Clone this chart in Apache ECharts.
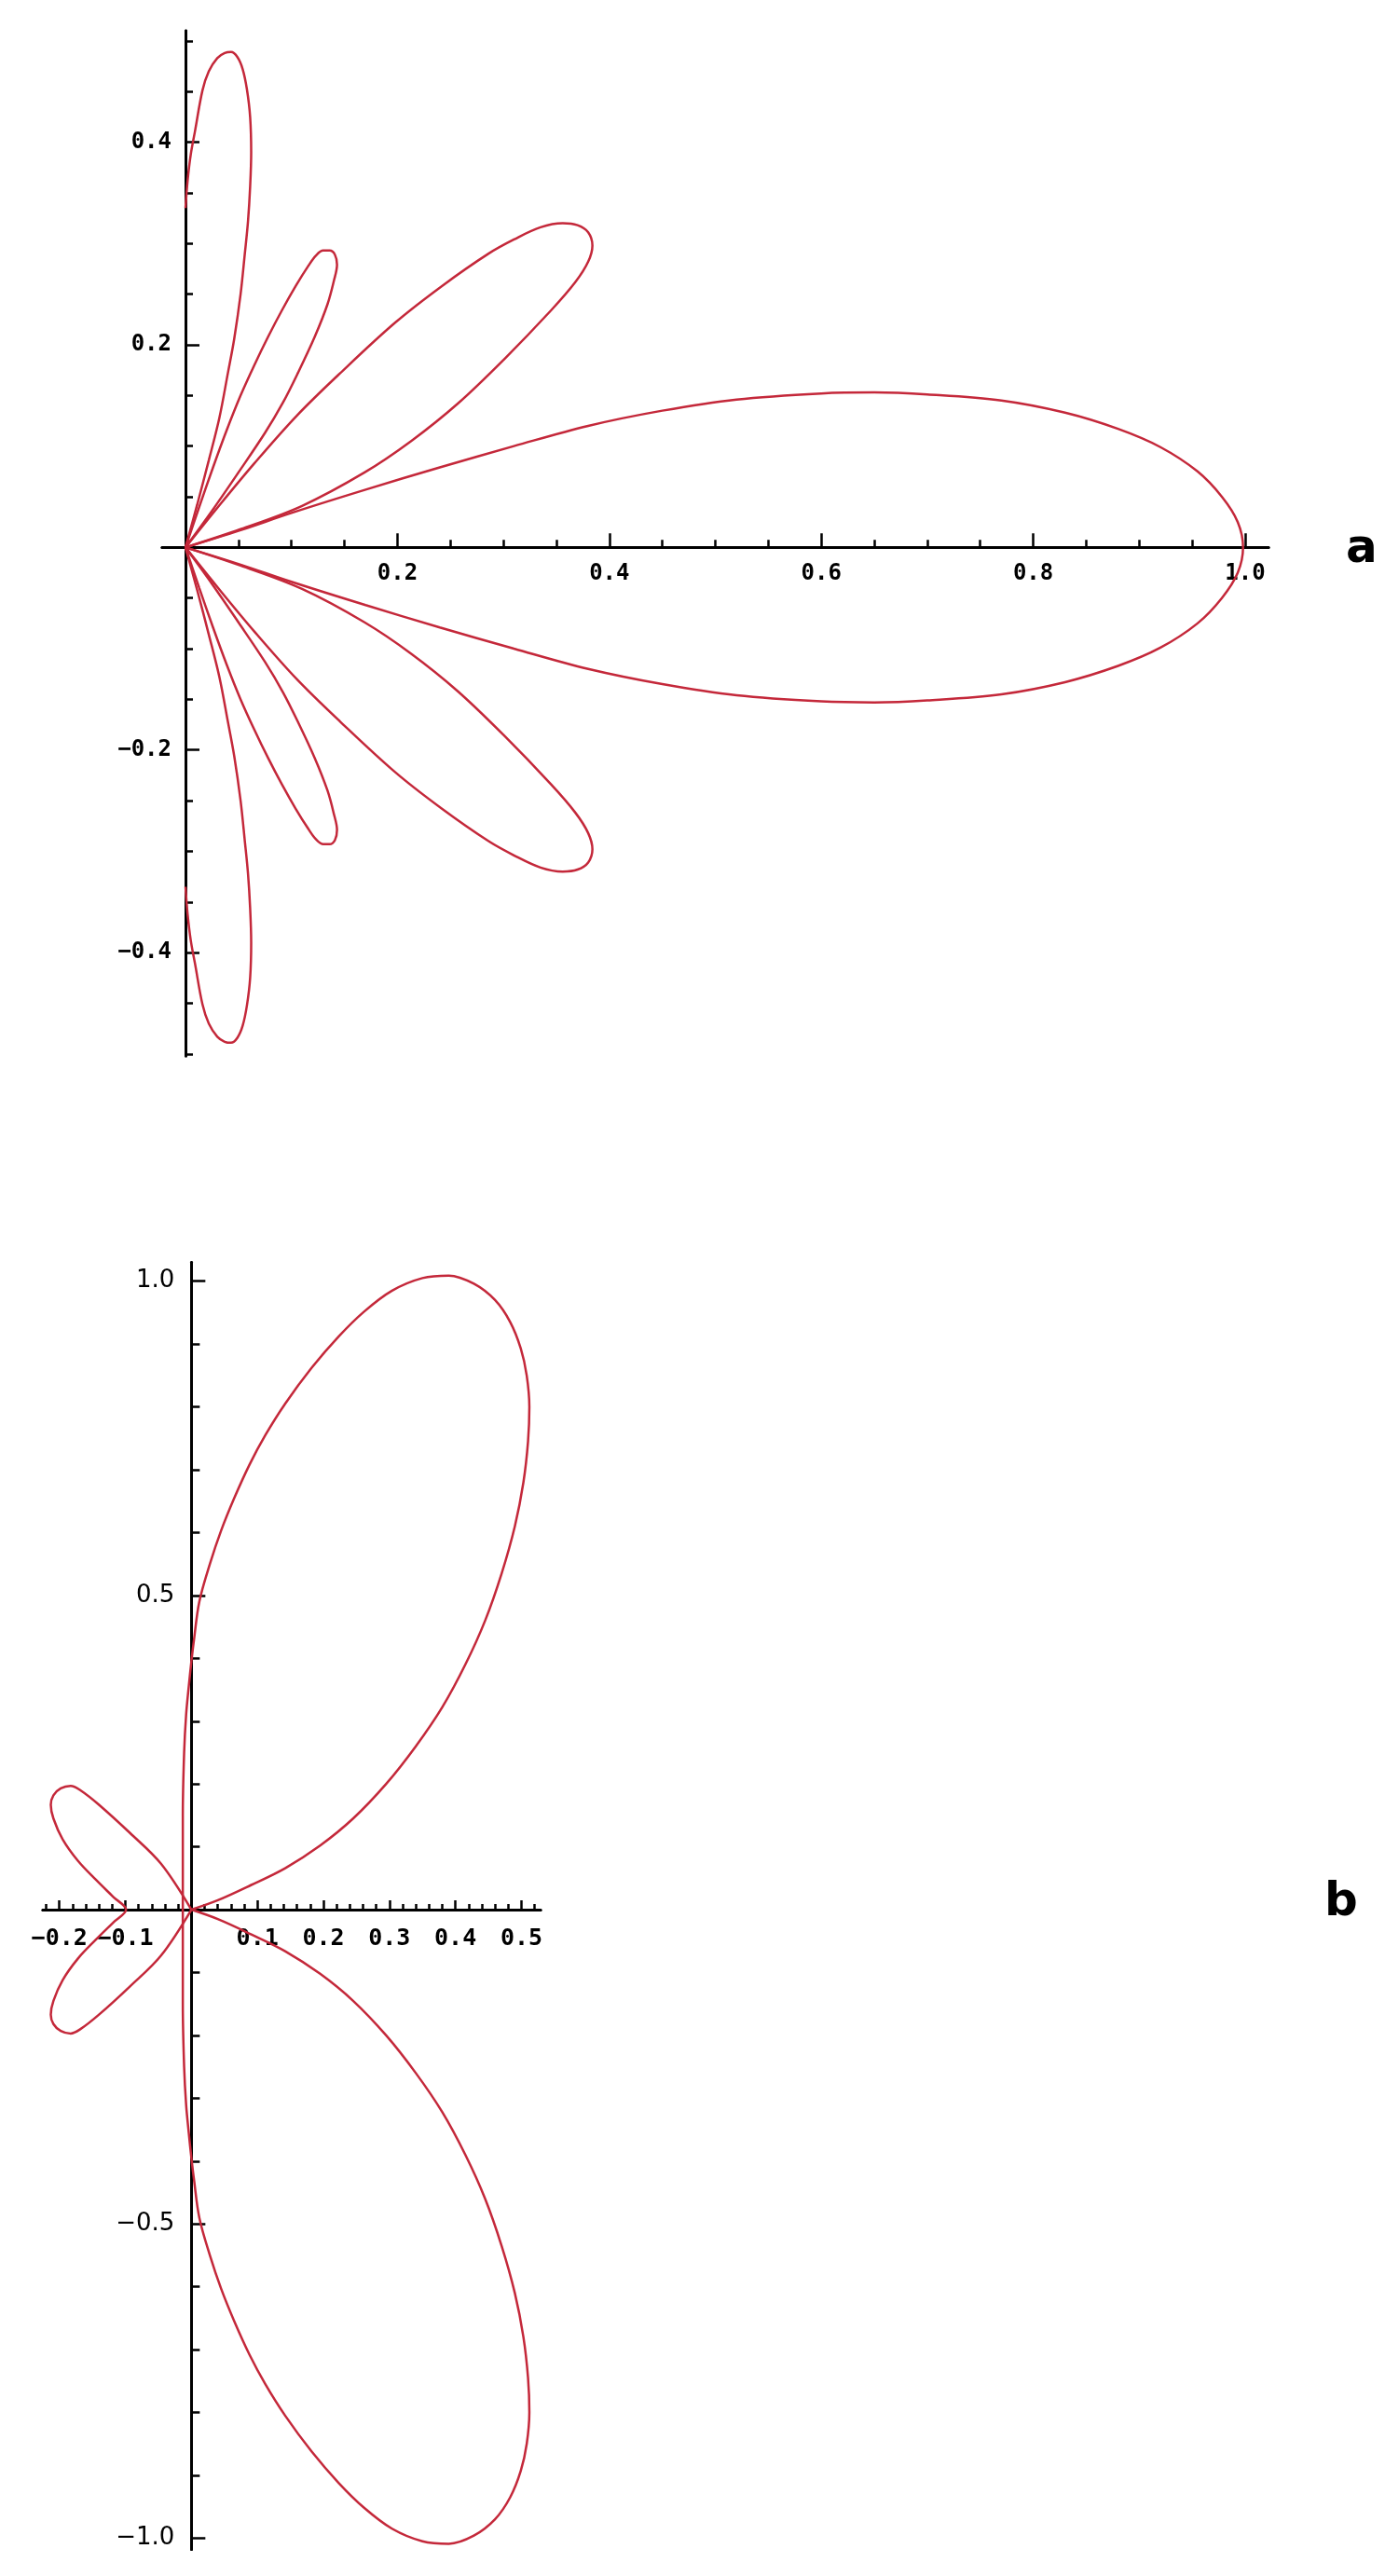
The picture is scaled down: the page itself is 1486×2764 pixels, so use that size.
<!DOCTYPE html>
<html>
<head>
<meta charset="utf-8">
<script src="https://cdn.jsdelivr.net/npm/echarts@6/dist/echarts.min.js"></script>
<style>
  html, body { margin: 0; padding: 0; background: #ffffff; }
  #chart { width: 1486px; height: 2764px; }
</style>
</head>
<body>
<div id="chart"></div>
<script>
// ---------- Panel a : tick values and labels ----------
const aXMajor = [0.2, 0.4, 0.6, 0.8, 1.0];
const aXMajorLabels = ['0.2', '0.4', '0.6', '0.8', '1.0'];
const aXMinor = [0.05, 0.1, 0.15, 0.25, 0.3, 0.35, 0.45, 0.5, 0.55, 0.65, 0.7, 0.75, 0.85, 0.9, 0.95];
const aYMajor = [-0.4, -0.2, 0.2, 0.4];
const aYMajorLabels = ['\u22120.4', '\u22120.2', '0.2', '0.4'];
const aYMinor = [-0.5, -0.45, -0.35, -0.3, -0.25, -0.15, -0.1, -0.05, 0.05, 0.1, 0.15, 0.25, 0.3, 0.35, 0.45, 0.5];

// ---------- Panel b : tick values and labels ----------
const bXMajor = [-0.2, -0.1, 0.1, 0.2, 0.3, 0.4, 0.5];
const bXMajorLabels = ['\u22120.2', '\u22120.1', '0.1', '0.2', '0.3', '0.4', '0.5'];
const bXMinor = [-0.22, -0.18, -0.16, -0.14, -0.12, -0.08, -0.06, -0.04, -0.02, 0.02, 0.04, 0.06, 0.08,
                 0.12, 0.14, 0.16, 0.18, 0.22, 0.24, 0.26, 0.28, 0.32, 0.34, 0.36, 0.38, 0.42, 0.44, 0.46, 0.48, 0.52];
const bYMajor = [-1.0, -0.5, 0.5, 1.0];
const bYMajorLabels = ['\u22121.0', '\u22120.5', '0.5', '1.0'];
const bYMinor = [-0.9, -0.8, -0.7, -0.6, -0.4, -0.3, -0.2, -0.1, 0.1, 0.2, 0.3, 0.4, 0.6, 0.7, 0.8, 0.9];

// ---------- Panel a : curve points (x, y) ----------
const aLobeTop = [
  [0.000, 0.335], [0.002, 0.362], [0.005, 0.388], [0.009, 0.411], [0.016, 0.451], [0.022, 0.470],
  [0.030, 0.483], [0.037, 0.488], [0.043, 0.489], [0.049, 0.484], [0.054, 0.472], [0.058, 0.452],
  [0.061, 0.425], [0.062, 0.390], [0.061, 0.356], [0.059, 0.322], [0.056, 0.290], [0.052, 0.250],
  [0.046, 0.206], [0.040, 0.172], [0.032, 0.128], [0.022, 0.086], [0.011, 0.042], [0.000, 0.000]
];
const aLobe65Up = [
  [0.000, 0.000], [0.025, 0.036], [0.050, 0.074], [0.075, 0.113], [0.092, 0.143], [0.106, 0.172],
  [0.122, 0.208], [0.134, 0.240], [0.140, 0.263], [0.143, 0.279], [0.141, 0.289], [0.136, 0.293],
  [0.130, 0.293], [0.123, 0.288], [0.116, 0.278], [0.104, 0.258], [0.091, 0.234], [0.078, 0.208],
  [0.065, 0.180], [0.052, 0.150], [0.039, 0.116], [0.026, 0.079], [0.013, 0.040], [0.000, 0.000]
];
const aLobe40Up = [
  [0.000, 0.000], [0.052, 0.018], [0.110, 0.041], [0.169, 0.074], [0.213, 0.105], [0.257, 0.142],
  [0.300, 0.185], [0.345, 0.234], [0.368, 0.262], [0.380, 0.282], [0.384, 0.298], [0.380, 0.311],
  [0.370, 0.318], [0.356, 0.320], [0.335, 0.316], [0.310, 0.304], [0.286, 0.290], [0.242, 0.258],
  [0.198, 0.222], [0.146, 0.172], [0.105, 0.130], [0.065, 0.083], [0.030, 0.039], [0.000, 0.000]
];
const aLobeMain = [
  [0.000, 0.000], [0.052, 0.017], [0.100, 0.034], [0.170, 0.057], [0.240, 0.079], [0.310, 0.100],
  [0.380, 0.120], [0.450, 0.135], [0.520, 0.146], [0.600, 0.152], [0.650, 0.153], [0.700, 0.151],
  [0.770, 0.145], [0.830, 0.133], [0.880, 0.117], [0.920, 0.099], [0.955, 0.075], [0.978, 0.050],
  [0.993, 0.025], [0.998, 0.000],
  [0.993, -0.025], [0.978, -0.050], [0.955, -0.075], [0.920, -0.099], [0.880, -0.117], [0.830, -0.133],
  [0.770, -0.145], [0.700, -0.151], [0.650, -0.153], [0.600, -0.152], [0.520, -0.146], [0.450, -0.135],
  [0.380, -0.120], [0.310, -0.100], [0.240, -0.079], [0.170, -0.057], [0.100, -0.034], [0.052, -0.017],
  [0.000, 0.000]
];
const aLobe40Down = [
  [0.000, 0.000], [0.052, -0.018], [0.110, -0.041], [0.169, -0.074], [0.213, -0.105], [0.257, -0.142],
  [0.300, -0.185], [0.345, -0.234], [0.368, -0.262], [0.380, -0.282], [0.384, -0.298], [0.380, -0.311],
  [0.370, -0.318], [0.356, -0.320], [0.335, -0.316], [0.310, -0.304], [0.286, -0.290], [0.242, -0.258],
  [0.198, -0.222], [0.146, -0.172], [0.105, -0.130], [0.065, -0.083], [0.030, -0.039], [0.000, 0.000]
];
const aLobe65Down = [
  [0.000, 0.000], [0.025, -0.036], [0.050, -0.074], [0.075, -0.113], [0.092, -0.143], [0.106, -0.172],
  [0.122, -0.208], [0.134, -0.240], [0.140, -0.263], [0.143, -0.279], [0.141, -0.289], [0.136, -0.293],
  [0.130, -0.293], [0.123, -0.288], [0.116, -0.278], [0.104, -0.258], [0.091, -0.234], [0.078, -0.208],
  [0.065, -0.180], [0.052, -0.150], [0.039, -0.116], [0.026, -0.079], [0.013, -0.040], [0.000, 0.000]
];
const aLobeBottom = [
  [0.000, -0.335], [0.002, -0.362], [0.005, -0.388], [0.009, -0.411], [0.016, -0.451], [0.022, -0.470],
  [0.030, -0.483], [0.037, -0.488], [0.043, -0.489], [0.049, -0.484], [0.054, -0.472], [0.058, -0.452],
  [0.061, -0.425], [0.062, -0.390], [0.061, -0.356], [0.059, -0.322], [0.056, -0.290], [0.052, -0.250],
  [0.046, -0.206], [0.040, -0.172], [0.032, -0.128], [0.022, -0.086], [0.011, -0.042], [0.000, 0.000]
];

// ---------- Panel b : curve points (x, y) ----------
const bBigLobes = [
  [0.000, 0.000], [0.040, 0.015], [0.090, 0.039], [0.142, 0.066], [0.195, 0.102], [0.245, 0.145],
  [0.295, 0.200], [0.340, 0.260], [0.380, 0.322], [0.415, 0.390], [0.445, 0.460], [0.470, 0.535],
  [0.490, 0.610], [0.503, 0.680], [0.510, 0.745], [0.512, 0.800], [0.508, 0.850], [0.499, 0.893],
  [0.483, 0.935], [0.460, 0.970], [0.428, 0.996], [0.390, 1.009], [0.350, 1.005], [0.304, 0.985],
  [0.262, 0.952], [0.223, 0.912], [0.182, 0.862], [0.142, 0.805], [0.112, 0.755], [0.088, 0.708],
  [0.065, 0.655], [0.045, 0.603], [0.028, 0.550], [0.012, 0.490], [0.004, 0.430], [0.000, 0.395],
  [-0.004, 0.355], [-0.008, 0.310], [-0.011, 0.250], [-0.013, 0.150], [-0.013, 0.000], [-0.013, -0.150],
  [-0.011, -0.250], [-0.008, -0.310], [-0.004, -0.355], [0.000, -0.395], [0.004, -0.430], [0.012, -0.490],
  [0.028, -0.550], [0.045, -0.603], [0.065, -0.655], [0.088, -0.708], [0.112, -0.755], [0.142, -0.805],
  [0.182, -0.862], [0.223, -0.912], [0.262, -0.952], [0.304, -0.985], [0.350, -1.005], [0.390, -1.009],
  [0.428, -0.996], [0.460, -0.970], [0.483, -0.935], [0.499, -0.893], [0.508, -0.850], [0.512, -0.800],
  [0.510, -0.745], [0.503, -0.680], [0.490, -0.610], [0.470, -0.535], [0.445, -0.460], [0.415, -0.390],
  [0.380, -0.322], [0.340, -0.260], [0.295, -0.200], [0.245, -0.145], [0.195, -0.102], [0.142, -0.066],
  [0.090, -0.039], [0.040, -0.015], [0.000, 0.000]
];
const bSmallLobes = [
  [0.000, 0.000], [-0.046, 0.073], [-0.093, 0.122], [-0.140, 0.167], [-0.168, 0.190], [-0.183, 0.197],
  [-0.198, 0.193], [-0.209, 0.182], [-0.213, 0.167], [-0.209, 0.145], [-0.195, 0.112], [-0.172, 0.078],
  [-0.145, 0.048], [-0.118, 0.020], [-0.099, 0.000], [-0.118, -0.020], [-0.145, -0.048], [-0.172, -0.078],
  [-0.195, -0.112], [-0.209, -0.145], [-0.213, -0.167], [-0.209, -0.182], [-0.198, -0.193], [-0.183, -0.197],
  [-0.168, -0.190], [-0.140, -0.167], [-0.093, -0.122], [-0.046, -0.073], [0.000, 0.000]
];

// ---------- chart construction ----------
const CURVE = '#c4283a';
const MONO = '"DejaVu Sans Mono", "Liberation Mono", monospace';
const SANS = '"DejaVu Sans", "Liberation Sans", sans-serif';

const gridA = { left: 174, top: 33, width: 1187, height: 1100 };
const gridB = { left: 46, top: 1354.5, width: 534, height: 1381 };
const rangeA = { x: [-0.022, 1.022], y: [-0.502, 0.51] };
const rangeB = { x: [-0.225, 0.529], y: [-1.018, 1.03] };

// offsets that move the bottom x axis / left y axis onto the zero lines
function xOff(g, r) { return -g.height * (0 - r.y[0]) / (r.y[1] - r.y[0]); }
function yOff(g, r) { return -g.width * (0 - r.x[0]) / (r.x[1] - r.x[0]); }

function labelFmt(ticks, labels) {
  return function (v) {
    for (let i = 0; i < ticks.length; i++) {
      if (Math.abs(ticks[i] - v) < 1e-9) return labels[i];
    }
    return '';
  };
}

function axis(dim, opt) {
  return {
    type: 'value',
    gridIndex: opt.grid,
    min: opt.range[0],
    max: opt.range[1],
    position: dim === 'x' ? 'bottom' : 'left',
    offset: opt.offset,
    axisLine: { show: true, onZero: false, lineStyle: { color: '#000', width: 3 } },
    axisTick: {
      show: true, inside: true, length: opt.tickLen,
      customValues: opt.ticks,
      lineStyle: { color: '#000', width: 2.5 }
    },
    axisLabel: opt.labels ? {
      show: true,
      customValues: opt.ticks,
      formatter: labelFmt(opt.ticks, opt.labels),
      margin: opt.margin,
      fontFamily: opt.font,
      fontSize: opt.fontSize,
      fontWeight: opt.weight || 'normal',
      color: '#000',
      hideOverlap: false
    } : { show: false },
    splitLine: { show: false },
    minorTick: { show: false },
    axisPointer: { show: false }
  };
}

function lobe(data, xi, yi) {
  return {
    type: 'line', data: data, xAxisIndex: xi, yAxisIndex: yi,
    smooth: 0.35, showSymbol: false, symbol: 'none', clip: false,
    lineStyle: { color: CURVE, width: 2.5 }, silent: true
  };
}

const chart = echarts.init(document.getElementById('chart'), null, { renderer: 'canvas', width: 1486, height: 2764 });

const oxA = xOff(gridA, rangeA), oyA = yOff(gridA, rangeA);
const oxB = xOff(gridB, rangeB), oyB = yOff(gridB, rangeB);

const option = {
  backgroundColor: '#ffffff',
  animation: false,
  grid: [
    Object.assign({ outerBoundsMode: 'none', containLabel: false }, gridA),
    Object.assign({ outerBoundsMode: 'none', containLabel: false }, gridB)
  ],
  xAxis: [
    axis('x', { grid: 0, range: rangeA.x, offset: oxA, tickLen: 15, ticks: aXMajor, labels: aXMajorLabels, margin: 16, font: MONO, fontSize: 24, weight: 'bold' }),
    axis('x', { grid: 0, range: rangeA.x, offset: oxA, tickLen: 8, ticks: aXMinor }),
    axis('x', { grid: 1, range: rangeB.x, offset: oxB, tickLen: 10, ticks: bXMajor, labels: bXMajorLabels, margin: 19, font: MONO, fontSize: 25, weight: 'bold' }),
    axis('x', { grid: 1, range: rangeB.x, offset: oxB, tickLen: 6, ticks: bXMinor })
  ],
  yAxis: [
    axis('y', { grid: 0, range: rangeA.y, offset: oyA, tickLen: 15, ticks: aYMajor, labels: aYMajorLabels, margin: 15, font: MONO, fontSize: 24, weight: 'bold' }),
    axis('y', { grid: 0, range: rangeA.y, offset: oyA, tickLen: 8, ticks: aYMinor }),
    axis('y', { grid: 1, range: rangeB.y, offset: oyB, tickLen: 15, ticks: bYMajor, labels: bYMajorLabels, margin: 18, font: SANS, fontSize: 26 }),
    axis('y', { grid: 1, range: rangeB.y, offset: oyB, tickLen: 9, ticks: bYMinor })
  ],
  series: [
    lobe(aLobeTop, 0, 0), lobe(aLobe65Up, 0, 0), lobe(aLobe40Up, 0, 0), lobe(aLobeMain, 0, 0),
    lobe(aLobe40Down, 0, 0), lobe(aLobe65Down, 0, 0), lobe(aLobeBottom, 0, 0),
    lobe(bBigLobes, 2, 2), lobe(bSmallLobes, 2, 2)
  ],
  graphic: [
    { type: 'text', left: 1444, top: 565, style: { text: 'a', font: 'bold 50px "DejaVu Sans", sans-serif', fill: '#000' } },
    { type: 'text', left: 1421, top: 2017, style: { text: 'b', font: 'bold 50px "DejaVu Sans", sans-serif', fill: '#000' } }
  ]
};
chart.setOption(option);
</script>
</body>
</html>
